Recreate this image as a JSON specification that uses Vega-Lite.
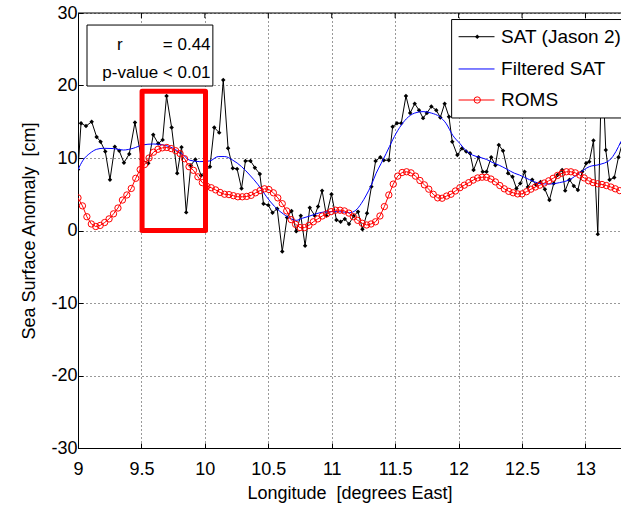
{
  "$schema": "https://vega.github.io/schema/vega-lite/v6.json",
  "width": 543,
  "height": 435,
  "autosize": {"type": "none"},
  "padding": {"left": 78, "top": 13, "right": 0, "bottom": 59},
  "background": "white",
  "config": {
    "font": "Liberation Sans",
    "view": {"stroke": null},
    "axis": {
      "grid": true,
      "gridDash": [1, 3],
      "gridColor": "#000",
      "gridOpacity": 0.8,
      "tickSize": -5,
      "tickColor": "#000",
      "domainColor": "#000",
      "labelFontSize": 18,
      "labelColor": "#000",
      "titleFontSize": 18,
      "titleFontWeight": "normal",
      "titleColor": "#000",
      "labelFlush": false,
      "labelOverlap": false
    }
  },
  "datasets": {
    "one": [{}],
    "topticks": [{"lon": 9.5}, {"lon": 10}, {"lon": 10.5}, {"lon": 11}, {"lon": 11.5}, {"lon": 12}, {"lon": 12.5}, {"lon": 13}],
    "sat": [
      {"lon": 9.000, "ssa": 8.4}, {"lon": 9.024, "ssa": 14.8}, {"lon": 9.063, "ssa": 14.4}, {"lon": 9.108, "ssa": 15.0},
      {"lon": 9.147, "ssa": 12.9}, {"lon": 9.178, "ssa": 12.25}, {"lon": 9.215, "ssa": 10.9}, {"lon": 9.252, "ssa": 7.0},
      {"lon": 9.290, "ssa": 11.55}, {"lon": 9.325, "ssa": 11.0}, {"lon": 9.362, "ssa": 9.35}, {"lon": 9.404, "ssa": 10.55},
      {"lon": 9.449, "ssa": 14.9}, {"lon": 9.500, "ssa": 9.8}, {"lon": 9.554, "ssa": 9.27}, {"lon": 9.593, "ssa": 13.2},
      {"lon": 9.632, "ssa": 12.0}, {"lon": 9.667, "ssa": 12.5}, {"lon": 9.698, "ssa": 18.55}, {"lon": 9.738, "ssa": 14.2},
      {"lon": 9.782, "ssa": 7.9}, {"lon": 9.816, "ssa": 11.5}, {"lon": 9.853, "ssa": 2.5}, {"lon": 9.890, "ssa": 9.0},
      {"lon": 9.925, "ssa": 9.8}, {"lon": 9.970, "ssa": 7.6}, {"lon": 10.040, "ssa": 8.8}, {"lon": 10.074, "ssa": 14.2},
      {"lon": 10.113, "ssa": 13.5}, {"lon": 10.145, "ssa": 20.76}, {"lon": 10.183, "ssa": 11.35}, {"lon": 10.220, "ssa": 8.6},
      {"lon": 10.254, "ssa": 8.5}, {"lon": 10.289, "ssa": 5.8}, {"lon": 10.320, "ssa": 9.6}, {"lon": 10.360, "ssa": 9.6},
      {"lon": 10.394, "ssa": 8.67}, {"lon": 10.433, "ssa": 7.8}, {"lon": 10.462, "ssa": 3.7}, {"lon": 10.500, "ssa": 3.5},
      {"lon": 10.533, "ssa": 2.45}, {"lon": 10.570, "ssa": 3.0}, {"lon": 10.610, "ssa": -2.9}, {"lon": 10.648, "ssa": 1.8},
      {"lon": 10.683, "ssa": 2.7}, {"lon": 10.720, "ssa": -0.1}, {"lon": 10.756, "ssa": 2.05}, {"lon": 10.790, "ssa": -2.1},
      {"lon": 10.827, "ssa": 3.15}, {"lon": 10.866, "ssa": 2.05}, {"lon": 10.892, "ssa": 3.3}, {"lon": 10.924, "ssa": 5.5},
      {"lon": 10.958, "ssa": 2.05}, {"lon": 10.998, "ssa": 5.0}, {"lon": 11.037, "ssa": 1.45}, {"lon": 11.070, "ssa": 1.2},
      {"lon": 11.103, "ssa": 1.6}, {"lon": 11.136, "ssa": 0.9}, {"lon": 11.173, "ssa": 2.0}, {"lon": 11.207, "ssa": 2.6},
      {"lon": 11.242, "ssa": 0.16}, {"lon": 11.278, "ssa": 2.37}, {"lon": 11.313, "ssa": 6.05}, {"lon": 11.346, "ssa": 9.6},
      {"lon": 11.383, "ssa": 10.1}, {"lon": 11.410, "ssa": 9.7}, {"lon": 11.450, "ssa": 9.7}, {"lon": 11.480, "ssa": 14.3},
      {"lon": 11.514, "ssa": 14.8}, {"lon": 11.548, "ssa": 14.8}, {"lon": 11.585, "ssa": 18.55}, {"lon": 11.618, "ssa": 16.2},
      {"lon": 11.654, "ssa": 17.5}, {"lon": 11.688, "ssa": 16.6}, {"lon": 11.720, "ssa": 15.5}, {"lon": 11.750, "ssa": 16.2},
      {"lon": 11.785, "ssa": 17.1}, {"lon": 11.824, "ssa": 16.6}, {"lon": 11.856, "ssa": 15.6}, {"lon": 11.890, "ssa": 17.5},
      {"lon": 11.924, "ssa": 15.7}, {"lon": 11.950, "ssa": 12.25}, {"lon": 11.990, "ssa": 10.4}, {"lon": 12.026, "ssa": 11.3},
      {"lon": 12.060, "ssa": 10.9}, {"lon": 12.090, "ssa": 10.65}, {"lon": 12.118, "ssa": 8.34}, {"lon": 12.157, "ssa": 10.1},
      {"lon": 12.190, "ssa": 8.1}, {"lon": 12.220, "ssa": 8.1}, {"lon": 12.257, "ssa": 10.1}, {"lon": 12.290, "ssa": 9.0},
      {"lon": 12.317, "ssa": 11.8}, {"lon": 12.350, "ssa": 11.0}, {"lon": 12.390, "ssa": 7.9}, {"lon": 12.425, "ssa": 7.4},
      {"lon": 12.456, "ssa": 5.8}, {"lon": 12.486, "ssa": 6.5}, {"lon": 12.520, "ssa": 8.1}, {"lon": 12.546, "ssa": 6.0},
      {"lon": 12.580, "ssa": 7.0}, {"lon": 12.610, "ssa": 6.3}, {"lon": 12.646, "ssa": 6.7}, {"lon": 12.680, "ssa": 5.7},
      {"lon": 12.716, "ssa": 4.2}, {"lon": 12.750, "ssa": 6.5}, {"lon": 12.780, "ssa": 7.65}, {"lon": 12.816, "ssa": 8.34},
      {"lon": 12.840, "ssa": 5.5}, {"lon": 12.874, "ssa": 7.0}, {"lon": 12.908, "ssa": 6.14}, {"lon": 12.940, "ssa": 5.6},
      {"lon": 12.974, "ssa": 8.1}, {"lon": 13.005, "ssa": 9.27}, {"lon": 13.030, "ssa": 9.5}, {"lon": 13.063, "ssa": 12.4},
      {"lon": 13.097, "ssa": -0.5}, {"lon": 13.130, "ssa": 24.0}, {"lon": 13.160, "ssa": 11.1}, {"lon": 13.190, "ssa": 7.0},
      {"lon": 13.227, "ssa": 7.3}, {"lon": 13.260, "ssa": 10.1}, {"lon": 13.290, "ssa": 12.0}
    ],
    "filt": [
      {"lon": 9.0, "ssa": 8.4}, {"lon": 9.04, "ssa": 9.7}, {"lon": 9.094, "ssa": 10.65}, {"lon": 9.147, "ssa": 11.2},
      {"lon": 9.2, "ssa": 11.34}, {"lon": 9.28, "ssa": 11.3}, {"lon": 9.357, "ssa": 11.1}, {"lon": 9.435, "ssa": 11.34},
      {"lon": 9.51, "ssa": 11.8}, {"lon": 9.593, "ssa": 11.93}, {"lon": 9.67, "ssa": 11.8}, {"lon": 9.75, "ssa": 11.34},
      {"lon": 9.83, "ssa": 10.4}, {"lon": 9.88, "ssa": 9.7}, {"lon": 9.96, "ssa": 9.5}, {"lon": 10.04, "ssa": 9.6},
      {"lon": 10.105, "ssa": 10.2}, {"lon": 10.157, "ssa": 10.2}, {"lon": 10.22, "ssa": 9.7}, {"lon": 10.29, "ssa": 8.8},
      {"lon": 10.354, "ssa": 7.65}, {"lon": 10.42, "ssa": 6.3}, {"lon": 10.486, "ssa": 4.66}, {"lon": 10.55, "ssa": 3.3},
      {"lon": 10.617, "ssa": 2.3}, {"lon": 10.68, "ssa": 1.6}, {"lon": 10.72, "ssa": 1.4}, {"lon": 10.77, "ssa": 1.7},
      {"lon": 10.827, "ssa": 2.0}, {"lon": 10.905, "ssa": 2.45}, {"lon": 10.98, "ssa": 2.6}, {"lon": 11.06, "ssa": 2.6},
      {"lon": 11.14, "ssa": 2.45}, {"lon": 11.19, "ssa": 2.8}, {"lon": 11.234, "ssa": 3.75}, {"lon": 11.273, "ssa": 4.9},
      {"lon": 11.313, "ssa": 6.3}, {"lon": 11.35, "ssa": 7.9}, {"lon": 11.39, "ssa": 9.27}, {"lon": 11.43, "ssa": 10.65},
      {"lon": 11.48, "ssa": 12.5}, {"lon": 11.535, "ssa": 14.2}, {"lon": 11.588, "ssa": 15.4}, {"lon": 11.654, "ssa": 16.2},
      {"lon": 11.72, "ssa": 16.4}, {"lon": 11.785, "ssa": 16.2}, {"lon": 11.85, "ssa": 15.7}, {"lon": 11.9, "ssa": 14.8},
      {"lon": 11.955, "ssa": 13.1}, {"lon": 12.01, "ssa": 12.0}, {"lon": 12.06, "ssa": 11.0}, {"lon": 12.11, "ssa": 10.4},
      {"lon": 12.165, "ssa": 10.1}, {"lon": 12.22, "ssa": 9.8}, {"lon": 12.27, "ssa": 9.35}, {"lon": 12.32, "ssa": 9.0},
      {"lon": 12.376, "ssa": 8.5}, {"lon": 12.44, "ssa": 7.9}, {"lon": 12.48, "ssa": 7.65}, {"lon": 12.56, "ssa": 7.0},
      {"lon": 12.64, "ssa": 6.5}, {"lon": 12.716, "ssa": 6.4}, {"lon": 12.795, "ssa": 6.6}, {"lon": 12.874, "ssa": 7.0},
      {"lon": 12.95, "ssa": 7.9}, {"lon": 13.03, "ssa": 8.8}, {"lon": 13.11, "ssa": 9.1}, {"lon": 13.19, "ssa": 9.7},
      {"lon": 13.24, "ssa": 10.9}, {"lon": 13.28, "ssa": 12.3}
    ],
    "roms": [
      {"lon": 9.000, "ssa": 4.5}, {"lon": 9.035, "ssa": 3.4}, {"lon": 9.070, "ssa": 1.9}, {"lon": 9.105, "ssa": 0.9},
      {"lon": 9.140, "ssa": 0.55}, {"lon": 9.175, "ssa": 0.7}, {"lon": 9.210, "ssa": 1.1}, {"lon": 9.245, "ssa": 1.6},
      {"lon": 9.280, "ssa": 2.3}, {"lon": 9.315, "ssa": 3.1}, {"lon": 9.350, "ssa": 4.2}, {"lon": 9.385, "ssa": 4.9},
      {"lon": 9.420, "ssa": 5.8}, {"lon": 9.455, "ssa": 7.2}, {"lon": 9.490, "ssa": 8.4}, {"lon": 9.525, "ssa": 9.1},
      {"lon": 9.560, "ssa": 10.0}, {"lon": 9.595, "ssa": 10.8}, {"lon": 9.630, "ssa": 11.2}, {"lon": 9.665, "ssa": 11.4},
      {"lon": 9.700, "ssa": 11.45}, {"lon": 9.735, "ssa": 11.3}, {"lon": 9.770, "ssa": 11.0}, {"lon": 9.805, "ssa": 10.6},
      {"lon": 9.840, "ssa": 9.9}, {"lon": 9.875, "ssa": 8.8}, {"lon": 9.910, "ssa": 8.3}, {"lon": 9.945, "ssa": 7.4},
      {"lon": 9.980, "ssa": 6.6}, {"lon": 10.015, "ssa": 6.1}, {"lon": 10.050, "ssa": 5.9}, {"lon": 10.085, "ssa": 5.6},
      {"lon": 10.120, "ssa": 5.25}, {"lon": 10.155, "ssa": 5.0}, {"lon": 10.190, "ssa": 4.95}, {"lon": 10.225, "ssa": 4.8},
      {"lon": 10.260, "ssa": 4.65}, {"lon": 10.295, "ssa": 4.65}, {"lon": 10.330, "ssa": 4.7}, {"lon": 10.365, "ssa": 4.85},
      {"lon": 10.400, "ssa": 5.2}, {"lon": 10.435, "ssa": 5.5}, {"lon": 10.470, "ssa": 5.75}, {"lon": 10.505, "ssa": 5.65},
      {"lon": 10.540, "ssa": 5.2}, {"lon": 10.575, "ssa": 4.5}, {"lon": 10.610, "ssa": 3.7}, {"lon": 10.645, "ssa": 2.7},
      {"lon": 10.680, "ssa": 1.5}, {"lon": 10.715, "ssa": 0.85}, {"lon": 10.750, "ssa": 0.4}, {"lon": 10.785, "ssa": 0.4},
      {"lon": 10.820, "ssa": 0.7}, {"lon": 10.855, "ssa": 1.2}, {"lon": 10.890, "ssa": 1.6}, {"lon": 10.925, "ssa": 2.0},
      {"lon": 10.960, "ssa": 2.3}, {"lon": 10.995, "ssa": 2.6}, {"lon": 11.030, "ssa": 2.8}, {"lon": 11.065, "ssa": 2.8},
      {"lon": 11.100, "ssa": 2.7}, {"lon": 11.135, "ssa": 2.4}, {"lon": 11.170, "ssa": 1.9}, {"lon": 11.205, "ssa": 1.4},
      {"lon": 11.240, "ssa": 1.0}, {"lon": 11.275, "ssa": 0.76}, {"lon": 11.310, "ssa": 0.9}, {"lon": 11.345, "ssa": 1.2},
      {"lon": 11.380, "ssa": 2.0}, {"lon": 11.415, "ssa": 3.3}, {"lon": 11.450, "ssa": 4.9}, {"lon": 11.485, "ssa": 6.4},
      {"lon": 11.520, "ssa": 7.5}, {"lon": 11.555, "ssa": 8.0}, {"lon": 11.590, "ssa": 8.1}, {"lon": 11.625, "ssa": 7.95},
      {"lon": 11.660, "ssa": 7.5}, {"lon": 11.695, "ssa": 6.9}, {"lon": 11.730, "ssa": 6.3}, {"lon": 11.765, "ssa": 5.7},
      {"lon": 11.800, "ssa": 5.0}, {"lon": 11.835, "ssa": 4.5}, {"lon": 11.870, "ssa": 4.45}, {"lon": 11.905, "ssa": 4.75},
      {"lon": 11.940, "ssa": 5.0}, {"lon": 11.975, "ssa": 5.45}, {"lon": 12.010, "ssa": 5.9}, {"lon": 12.045, "ssa": 6.25},
      {"lon": 12.080, "ssa": 6.6}, {"lon": 12.115, "ssa": 6.95}, {"lon": 12.150, "ssa": 7.25}, {"lon": 12.185, "ssa": 7.35},
      {"lon": 12.220, "ssa": 7.34}, {"lon": 12.255, "ssa": 7.1}, {"lon": 12.290, "ssa": 6.7}, {"lon": 12.325, "ssa": 6.2},
      {"lon": 12.360, "ssa": 5.75}, {"lon": 12.395, "ssa": 5.4}, {"lon": 12.430, "ssa": 5.2}, {"lon": 12.465, "ssa": 5.05},
      {"lon": 12.500, "ssa": 5.05}, {"lon": 12.535, "ssa": 5.35}, {"lon": 12.570, "ssa": 5.7}, {"lon": 12.605, "ssa": 6.0},
      {"lon": 12.640, "ssa": 6.25}, {"lon": 12.675, "ssa": 6.55}, {"lon": 12.710, "ssa": 6.85}, {"lon": 12.745, "ssa": 7.2},
      {"lon": 12.780, "ssa": 7.6}, {"lon": 12.815, "ssa": 7.9}, {"lon": 12.850, "ssa": 8.1}, {"lon": 12.885, "ssa": 8.1},
      {"lon": 12.920, "ssa": 7.95}, {"lon": 12.955, "ssa": 7.65}, {"lon": 12.990, "ssa": 7.25}, {"lon": 13.025, "ssa": 6.85},
      {"lon": 13.060, "ssa": 6.6}, {"lon": 13.095, "ssa": 6.45}, {"lon": 13.130, "ssa": 6.35}, {"lon": 13.165, "ssa": 6.2},
      {"lon": 13.200, "ssa": 6.0}, {"lon": 13.235, "ssa": 5.75}, {"lon": 13.270, "ssa": 5.5}
    ],
    "legend": [
      {"lon1": 12.0, "lon2": 12.283, "lonm": 12.147, "lont": 12.335, "ssa": 26.73, "label": "SAT (Jason 2)", "series": "SAT"},
      {"lon1": 12.0, "lon2": 12.283, "lonm": 12.147, "lont": 12.335, "ssa": 22.28, "label": "Filtered SAT", "series": "Filtered SAT"},
      {"lon1": 12.0, "lon2": 12.283, "lonm": 12.147, "lont": 12.335, "ssa": 18.0, "label": "ROMS", "series": "ROMS"}
    ]
  },
  "layer": [
    {
      "data": {"name": "sat"},
      "mark": {"type": "line", "color": "#000", "strokeWidth": 1, "clip": true},
      "encoding": {
        "x": {
          "field": "lon", "type": "quantitative",
          "scale": {"domain": [9, 13.28], "nice": false, "zero": false},
          "axis": {
            "values": [9, 9.5, 10, 10.5, 11, 11.5, 12, 12.5, 13],
            "labelExpr": "'' + datum.value",
            "title": "Longitude \u00a0[degrees East]",
            "labelPadding": 17,
            "titlePadding": 6
          }
        },
        "y": {
          "field": "ssa", "type": "quantitative",
          "scale": {"domain": [-30, 30], "nice": false, "zero": false},
          "axis": {
            "values": [-30, -20, -10, 0, 10, 20, 30],
            "labelExpr": "'' + datum.value",
            "title": "Sea Surface Anomaly \u00a0[cm]",
            "labelPadding": 6,
            "titlePadding": 12
          }
        }
      }
    },
    {
      "data": {"name": "sat"},
      "mark": {"type": "point", "shape": "diamond", "filled": true, "color": "#000", "size": 20, "opacity": 1, "clip": true},
      "encoding": {
        "x": {"field": "lon", "type": "quantitative"},
        "y": {"field": "ssa", "type": "quantitative"}
      }
    },
    {
      "data": {"name": "filt"},
      "mark": {"type": "line", "color": "#0000FF", "strokeWidth": 1, "interpolate": "monotone", "clip": true},
      "encoding": {
        "x": {"field": "lon", "type": "quantitative"},
        "y": {"field": "ssa", "type": "quantitative"}
      }
    },
    {
      "data": {"name": "roms"},
      "mark": {"type": "line", "color": "#FF0000", "strokeWidth": 1, "clip": true},
      "encoding": {
        "x": {"field": "lon", "type": "quantitative"},
        "y": {"field": "ssa", "type": "quantitative"}
      }
    },
    {
      "data": {"name": "roms"},
      "mark": {"type": "point", "shape": "circle", "filled": false, "color": "#FF0000", "size": 40, "strokeWidth": 1, "opacity": 1, "clip": true},
      "encoding": {
        "x": {"field": "lon", "type": "quantitative"},
        "y": {"field": "ssa", "type": "quantitative"}
      }
    },
    {
      "data": {"name": "one"},
      "mark": {"type": "rect", "fill": null, "fillOpacity": 0, "stroke": "#FF0000", "strokeWidth": 5, "strokeJoin": "round"},
      "encoding": {
        "x": {"datum": 9.505},
        "x2": {"datum": 10.005},
        "y": {"datum": 0},
        "y2": {"datum": 19.2}
      }
    },
    {
      "data": {"name": "one"},
      "mark": {"type": "rect", "fill": "white", "stroke": "#000", "strokeWidth": 1},
      "encoding": {
        "x": {"datum": 9.071},
        "x2": {"datum": 10.063},
        "y": {"datum": 19.93},
        "y2": {"datum": 28.34}
      }
    },
    {
      "data": {"name": "one"},
      "mark": {"type": "text", "text": "r", "fontSize": 17, "align": "center", "baseline": "middle", "color": "#000"},
      "encoding": {"x": {"datum": 9.33}, "y": {"datum": 25.6}}
    },
    {
      "data": {"name": "one"},
      "mark": {"type": "text", "text": "= 0.44", "fontSize": 17, "align": "right", "baseline": "middle", "color": "#000"},
      "encoding": {"x": {"datum": 10.045}, "y": {"datum": 25.6}}
    },
    {
      "data": {"name": "one"},
      "mark": {"type": "text", "text": "p-value < 0.01", "fontSize": 17, "align": "right", "baseline": "middle", "color": "#000"},
      "encoding": {"x": {"datum": 10.045}, "y": {"datum": 21.7}}
    },
    {
      "data": {"name": "one"},
      "mark": {"type": "rect", "fill": "white", "stroke": "#000", "strokeWidth": 1},
      "encoding": {
        "x": {"datum": 11.945},
        "x2": {"datum": 13.5},
        "y": {"datum": 15.52},
        "y2": {"datum": 29.1}
      }
    },
    {
      "data": {"name": "legend"},
      "mark": {"type": "rule", "strokeWidth": 1},
      "encoding": {
        "x": {"field": "lon1", "type": "quantitative"},
        "x2": {"field": "lon2"},
        "y": {"field": "ssa", "type": "quantitative"},
        "color": {
          "field": "series", "type": "nominal", "legend": null,
          "scale": {"domain": ["SAT", "Filtered SAT", "ROMS"], "range": ["#000000", "#0000FF", "#FF0000"]}
        }
      }
    },
    {
      "data": {"name": "legend"},
      "transform": [{"filter": "datum.series == 'SAT'"}],
      "mark": {"type": "point", "shape": "diamond", "filled": true, "color": "#000", "size": 20, "opacity": 1},
      "encoding": {
        "x": {"field": "lonm", "type": "quantitative"},
        "y": {"field": "ssa", "type": "quantitative"}
      }
    },
    {
      "data": {"name": "legend"},
      "transform": [{"filter": "datum.series == 'ROMS'"}],
      "mark": {"type": "point", "shape": "circle", "filled": false, "color": "#FF0000", "size": 40, "strokeWidth": 1, "opacity": 1},
      "encoding": {
        "x": {"field": "lonm", "type": "quantitative"},
        "y": {"field": "ssa", "type": "quantitative"}
      }
    },
    {
      "data": {"name": "legend"},
      "mark": {"type": "text", "fontSize": 19, "align": "left", "baseline": "middle", "color": "#000"},
      "encoding": {
        "x": {"field": "lont", "type": "quantitative"},
        "y": {"field": "ssa", "type": "quantitative"},
        "text": {"field": "label"}
      }
    },
    {
      "data": {"name": "topticks"},
      "mark": {"type": "rule", "color": "#000", "strokeWidth": 1},
      "encoding": {
        "x": {"field": "lon", "type": "quantitative"},
        "y": {"datum": 30},
        "y2": {"datum": 29.3}
      }
    },
    {
      "data": {"name": "one"},
      "mark": {"type": "rule", "color": "#000", "strokeWidth": 1},
      "encoding": {"y": {"datum": 30}}
    }
  ]
}
